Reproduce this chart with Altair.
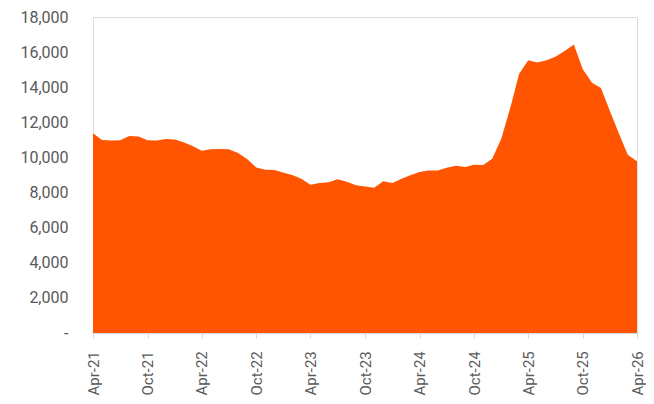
import altair as alt
import pandas as pd

# Monthly dates Apr-2021 .. Apr-2026
years = [2021] * 9 + [2022] * 12 + [2023] * 12 + [2024] * 12 + [2025] * 12 + [2026] * 4
months = list(range(4, 13)) + list(range(1, 13)) * 4 + list(range(1, 5))

values = [
    11380, 11000, 10960, 10980, 11220, 11200, 10980, 10970, 11050,
    11020, 10850, 10650, 10380, 10470, 10480, 10470, 10250, 9900, 9430, 9300, 9290,
    9130, 8980, 8780, 8450, 8540, 8580, 8760, 8620, 8420, 8350, 8280, 8640,
    8550, 8790, 8980, 9170, 9260, 9260, 9410, 9520, 9450, 9580, 9570, 9920,
    11100, 12900, 14750, 15540, 15410, 15540, 15730, 16070, 16440, 15030, 14250, 13950,
    12600, 11290, 10160, 9790,
]

tick_years = [2021, 2021, 2022, 2022, 2023, 2023, 2024, 2024, 2025, 2025, 2026]
tick_months = [4, 10, 4, 10, 4, 10, 4, 10, 4, 10, 4]

y_ticks = [0, 2000, 4000, 6000, 8000, 10000, 12000, 14000, 16000, 18000]

dates = [f"{y:04d}-{m:02d}-01T00:00:00" for y, m in zip(years, months)]
df = pd.DataFrame({"date": dates, "value": values})

tick_values = [alt.DateTime(year=y, month=m, date=1) for y, m in zip(tick_years, tick_months)]

FONT = "Roboto"
LABEL_COLOR = "#595959"

chart = (
    alt.Chart(df)
    .mark_area(color="#FF5500", opacity=1, line=False)
    .encode(
        x=alt.X(
            "date:T",
            title=None,
            scale=alt.Scale(
                domain=[alt.DateTime(year=2021, month=4, date=1), alt.DateTime(year=2026, month=4, date=1)],
                nice=False,
            ),
            axis=alt.Axis(
                values=tick_values,
                format="%b-%y",
                labelAngle=270,
                labelAlign="left",
                labelBaseline="middle",
                labelPadding=57,
                labelFont=FONT,
                labelFontSize=15,
                labelColor=LABEL_COLOR,
                labelOverlap=False,
                labelFlush=False,
                grid=False,
                domainColor="#D9D9D9",
                tickColor="#D9D9D9",
                tickSize=5,
            ),
        ),
        y=alt.Y(
            "value:Q",
            title=None,
            scale=alt.Scale(domain=[0, 18000], nice=False),
            axis=alt.Axis(
                values=y_ticks,
                labelExpr="datum.value == 0 ? '-\u00a0\u00a0' : (datum.value >= 10000 ? format(datum.value, ',') + '\u00a0' : format(datum.value, ','))",
                labelFont=FONT,
                labelFontSize=16,
                labelColor=LABEL_COLOR,
                labelPadding=25,
                labelFlush=False,
                ticks=False,
                domain=False,
                grid=False,
            ),
        ),
    )
    .properties(
        width=544,
        height=316,
        padding={"left": 85, "top": 9, "right": 9, "bottom": 63},
        autosize=alt.AutoSizeParams(type="none"),
    )
    .configure_view(fill="#F8FAF9", strokeOpacity=0, strokeWidth=0)
    .configure(background="white")
)

chart.save("out.html", embed_options={"renderer": "svg", "actions": False})
